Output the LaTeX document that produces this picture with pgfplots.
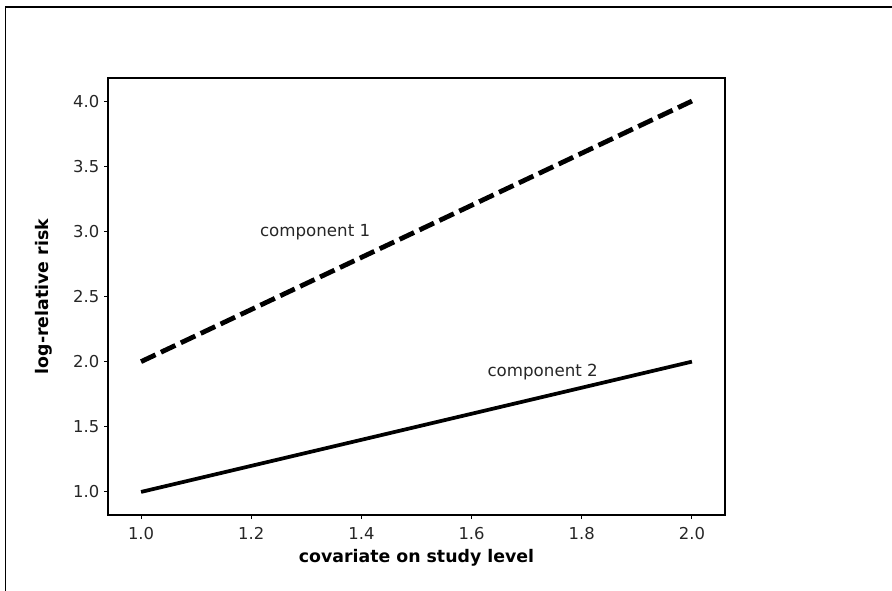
\documentclass[border=0pt]{standalone}
\usepackage{fontspec}
\setmainfont{DejaVu Sans}
\usepackage{pgfplots}
\pgfplotsset{compat=1.18}
\begin{document}
\begin{tikzpicture}
\useasboundingbox (0,0) rectangle (669pt,443.25pt);
\draw[line width=1.1pt] (4.3pt,0) -- (4.3pt,438pt) -- (669pt,438pt);
\begin{axis}[
  at={(81pt,57pt)}, anchor=south west,
  scale only axis, width=462.75pt, height=327.75pt,
  xmin=0.94, xmax=2.06, ymin=0.823, ymax=4.177,
  xtick={1.0,1.2,1.4,1.6,1.8,2.0},
  ytick={1.0,1.5,2.0,2.5,3.0,3.5,4.0},
  xticklabel style={/pgf/number format/fixed,/pgf/number format/fixed zerofill,/pgf/number format/precision=1, yshift=-3pt},
  yticklabel style={/pgf/number format/fixed,/pgf/number format/fixed zerofill,/pgf/number format/precision=1},
  /pgf/number format/assume math mode=true,
  tick align=outside, tick pos=left,
  major tick length=3pt,
  every tick/.style={black, line width=0.8pt},
  axis line style={line width=1pt},
  ticklabel style={font=\fontsize{12.3}{14}\selectfont, text=black!85},
  label style={font=\fontsize{13}{15}\selectfont\bfseries},
  ylabel style={yshift=9pt},
  xlabel={covariate on study level},
  ylabel={log-relative risk},
  clip=false,
]
\addplot[black, line width=3.6pt, dash pattern=on 12pt off 4.5pt] coordinates {(1.0,2.0) (2.0,4.0)};
\addplot[black, line width=2.8pt] coordinates {(1.0,1.0) (2.0,2.0)};
\node[font=\fontsize{12.5}{15}\selectfont, text=black!85] at (axis cs:1.316,2.99) {component 1};
\node[font=\fontsize{12.5}{15}\selectfont, text=black!85] at (axis cs:1.729,1.92) {component 2};
\end{axis}
\end{tikzpicture}
\end{document}
